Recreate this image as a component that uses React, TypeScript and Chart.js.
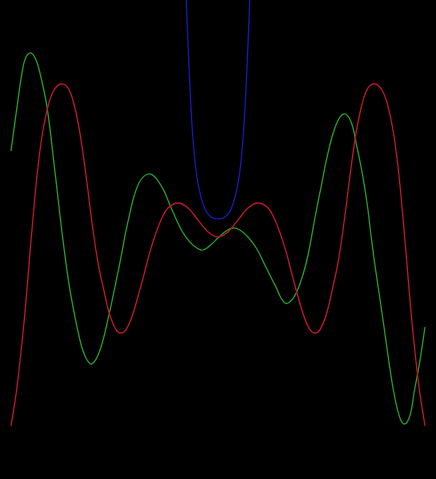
import React, { useEffect, useRef } from "react";
import { Chart, registerables } from "chart.js";

Chart.register(...registerables);

// Red curve (symmetric), sampled positions and values
const redX = [-1.0, -0.971, -0.937, -0.903, -0.874, -0.85, -0.821, -0.792, -0.758, -0.725, -0.696, -0.667, -0.638, -0.609, -0.58, -0.556, -0.527, -0.493, -0.469, -0.444, -0.415, -0.386, -0.357, -0.329, -0.3, -0.271, -0.242, -0.193, -0.145, -0.097, -0.048, 0,
  0.048, 0.097, 0.145, 0.193, 0.242, 0.271, 0.3, 0.329, 0.357, 0.386, 0.415, 0.444, 0.469, 0.493, 0.527, 0.556, 0.58, 0.609, 0.638, 0.667, 0.696, 0.725, 0.758, 0.792, 0.821, 0.85, 0.874, 0.903, 0.937, 0.971, 1.0];
const redY = [-1.0, -0.772, -0.392, 0.088, 0.468, 0.696, 0.871, 0.965, 1.0, 0.977, 0.883, 0.713, 0.468, 0.193, -0.045, -0.18, -0.333, -0.436, -0.456, -0.436, -0.358, -0.24, -0.112, 0.018, 0.129, 0.216, 0.275, 0.304, 0.275, 0.205, 0.135, 0.105,
  0.135, 0.205, 0.275, 0.304, 0.275, 0.216, 0.129, 0.018, -0.112, -0.24, -0.358, -0.436, -0.456, -0.436, -0.333, -0.18, -0.045, 0.193, 0.468, 0.713, 0.883, 0.977, 1.0, 0.965, 0.871, 0.696, 0.468, 0.088, -0.392, -0.772, -1.0];

// Green curve
const greenX = [-1.0, -0.971, -0.947, -0.928, -0.903, -0.879, -0.86, -0.826, -0.787, -0.749, -0.715, -0.667, -0.638, -0.609, -0.57, -0.527, -0.478, -0.43, -0.382, -0.329, -0.271, -0.222, -0.155, -0.082, -0.039, 0, 0.039, 0.072, 0.106, 0.145, 0.188, 0.227, 0.275, 0.324, 0.362, 0.401, 0.435, 0.469, 0.498, 0.527, 0.57, 0.609, 0.643, 0.671, 0.696, 0.72, 0.739, 0.758, 0.783, 0.802, 0.826, 0.85, 0.879, 0.903, 0.928, 0.947, 0.976, 1.0];
const greenY = [0.608, 0.865, 1.064, 1.158, 1.181, 1.14, 1.064, 0.865, 0.48, 0.088, -0.205, -0.497, -0.602, -0.637, -0.556, -0.351, -0.07, 0.222, 0.421, 0.474, 0.398, 0.263, 0.105, 0.029, 0.055, 0.099, 0.14, 0.158, 0.146, 0.105, 0.035, -0.06, -0.175, -0.281, -0.255, -0.15, 0.0, 0.222, 0.398, 0.573, 0.76, 0.825, 0.778, 0.632, 0.485, 0.304, 0.117, -0.058, -0.263, -0.421, -0.626, -0.807, -0.953, -0.988, -0.936, -0.807, -0.614, -0.421];

// Blue curve (symmetric, leaves the top of the plot)
const blueX = [-0.169, -0.159, -0.152, -0.147, -0.14, -0.133, -0.126, -0.118, -0.111, -0.101, -0.089, -0.077, -0.063, -0.048, -0.029, 0, 0.029, 0.048, 0.063, 0.077, 0.089, 0.101, 0.111, 0.118, 0.126, 0.133, 0.14, 0.147, 0.152, 0.159, 0.169];
const blueY = [2.047, 1.696, 1.444, 1.298, 1.094, 0.918, 0.766, 0.637, 0.544, 0.45, 0.374, 0.316, 0.269, 0.24, 0.219, 0.211, 0.219, 0.24, 0.269, 0.316, 0.374, 0.45, 0.544, 0.637, 0.766, 0.918, 1.094, 1.298, 1.444, 1.696, 2.047];

const pts = (xs: number[], ys: number[]) => xs.map((x, i) => ({ x, y: ys[i] }));

export default function App() {
  const ref = useRef<HTMLCanvasElement | null>(null);
  useEffect(() => {
    if (!ref.current) return;
    const common = {
      pointRadius: 0,
      borderWidth: 1.3,
      fill: false,
      tension: 0.4,
    };
    const chart = new Chart(ref.current, {
      type: "line",
      data: {
        datasets: [
          { ...common, label: "red", data: pts(redX, redY), borderColor: "rgb(190,25,40)" },
          { ...common, label: "green", data: pts(greenX, greenY), borderColor: "rgb(40,155,40)" },
          { ...common, label: "blue", data: pts(blueX, blueY), borderColor: "rgb(25,25,180)" },
        ],
      },
      options: {
        animation: false,
        responsive: false,
        events: [],
        layout: { padding: 0 },
        plugins: { legend: { display: false }, tooltip: { enabled: false } },
        scales: {
          x: { type: "linear", min: -1.05314, max: 1.05314, display: false },
          y: { type: "linear", min: -1.30994, max: 1.49123, display: false },
        },
      },
    });
    return () => chart.destroy();
  }, []);
  return (
    <div style={{ position: "fixed", left: 0, top: 0, width: 436, height: 479, background: "#000" }}>
      <canvas ref={ref} width={436} height={479} style={{ display: "block" }} />
    </div>
  );
}
